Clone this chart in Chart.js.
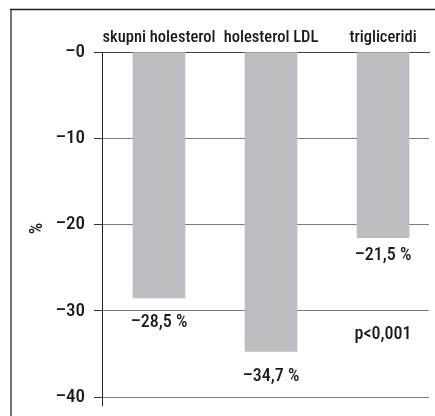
<!DOCTYPE html>
<html>
<head>
<meta charset="utf-8">
<script src="https://cdn.jsdelivr.net/npm/chart.js@4.4.1/dist/chart.umd.min.js"></script>
<style>
  html, body { margin: 0; padding: 0; background: #fff; }
  #wrap { position: relative; width: 435px; height: 416px; }
  canvas { display: block; }
</style>
</head>
<body>
<div id="wrap"><canvas id="chart" width="435" height="416"></canvas></div>
<script>
// Percentage change of lipid values
const categories = ['skupni holesterol', 'holesterol LDL', 'trigliceridi'];
const changePct = [-28.5, -34.7, -21.5];
const yTicks = [0, -10, -20, -30, -40];
const noteText = 'p<0,001';

const FONT = "'Roboto Condensed', 'DejaVu Sans Condensed', sans-serif";
const WEIGHT = 500;
const INK = '#1a1a1a';

const fmtPct = v => '\u2013' + Math.abs(v).toFixed(1).replace('.', ',') + ' %';

// thin frame on the left and top edges
const framePlugin = {
  id: 'frame',
  beforeDraw(chart) {
    const c = chart.ctx;
    c.save();
    c.strokeStyle = '#777';
    c.lineWidth = 2;
    c.beginPath();
    c.moveTo(11, 9);
    c.lineTo(11, chart.height);
    c.stroke();
    c.strokeStyle = '#222';
    c.lineWidth = 1.5;
    c.beginPath();
    c.moveTo(10, 9.5);
    c.lineTo(chart.width, 9.5);
    c.stroke();
    c.restore();
  }
};

// value labels under each bar plus the significance note
const valueLabelPlugin = {
  id: 'valueLabels',
  afterDatasetsDraw(chart, args, opts) {
    const c = chart.ctx;
    const meta = chart.getDatasetMeta(0);
    c.save();
    c.font = `${WEIGHT} 18px ${FONT}`;
    c.fillStyle = INK;
    c.textAlign = 'center';
    c.textBaseline = 'middle';
    meta.data.forEach((bar, i) => {
      c.fillText(fmtPct(changePct[i]), bar.x, bar.y + opts.gaps[i]);
    });
    const xs = chart.scales.x, ys = chart.scales.y;
    c.fillText(noteText, xs.getPixelForValue(2), ys.getPixelForValue(opts.noteAt));
    c.restore();
  }
};

new Chart(document.getElementById('chart'), {
  type: 'bar',
  data: {
    datasets: [{
      data: categories.map((c, i) => ({ x: i, y: changePct[i] })),
      backgroundColor: '#bcbdc0',
      borderWidth: 0,
      barThickness: 52
    }]
  },
  options: {
    responsive: false,
    animation: false,
    devicePixelRatio: 1,
    layout: { padding: { left: 0, top: 0, right: 6, bottom: 11 } },
    plugins: {
      legend: { display: false },
      tooltip: { enabled: false },
      valueLabels: { gaps: [24.5, 25, 17.5], noteAt: -32.7 }
    },
    scales: {
      x: {
        type: 'linear',
        position: 'top',
        offset: false,
        min: -0.509,
        max: 2.41,
        grid: { display: false, drawTicks: false, offset: false },
        // the solid zero line along the top of the plot
        border: { display: true, color: '#444', width: 1 },
        afterBuildTicks: s => { s.ticks = categories.map((c, i) => ({ value: i })); },
        afterFit: s => { s.height = 52; s.paddingLeft = 0; s.paddingRight = 0; },
        ticks: {
          callback: v => categories[v],
          font: { family: FONT, size: 16.5, weight: WEIGHT },
          color: INK,
          padding: 4,
          maxRotation: 0,
          autoSkip: false
        }
      },
      y: {
        min: -40.9,
        max: 0,
        afterBuildTicks: s => { s.ticks = yTicks.map(v => ({ value: v })); },
        afterFit: s => { s.width = 102; s.paddingTop = 0; s.paddingBottom = 0; },
        ticks: {
          callback: v => '\u2013' + Math.abs(v),
          font: { family: FONT, size: 19, weight: WEIGHT },
          color: INK,
          padding: 9
        },
        grid: {
          color: '#7a7a7a',
          borderDash: [5, 2],
          lineWidth: 1,
          tickLength: 8,
          tickColor: '#333',
          tickBorderDash: [],
          tickWidth: 1
        },
        border: { display: true, color: '#222', width: 1 },
        title: {
          display: true,
          text: '%',
          font: { family: FONT, size: 18, weight: WEIGHT },
          color: INK,
          padding: { top: 27, bottom: 0 }
        }
      }
    }
  },
  plugins: [framePlugin, valueLabelPlugin]
});
</script>
</body>
</html>
